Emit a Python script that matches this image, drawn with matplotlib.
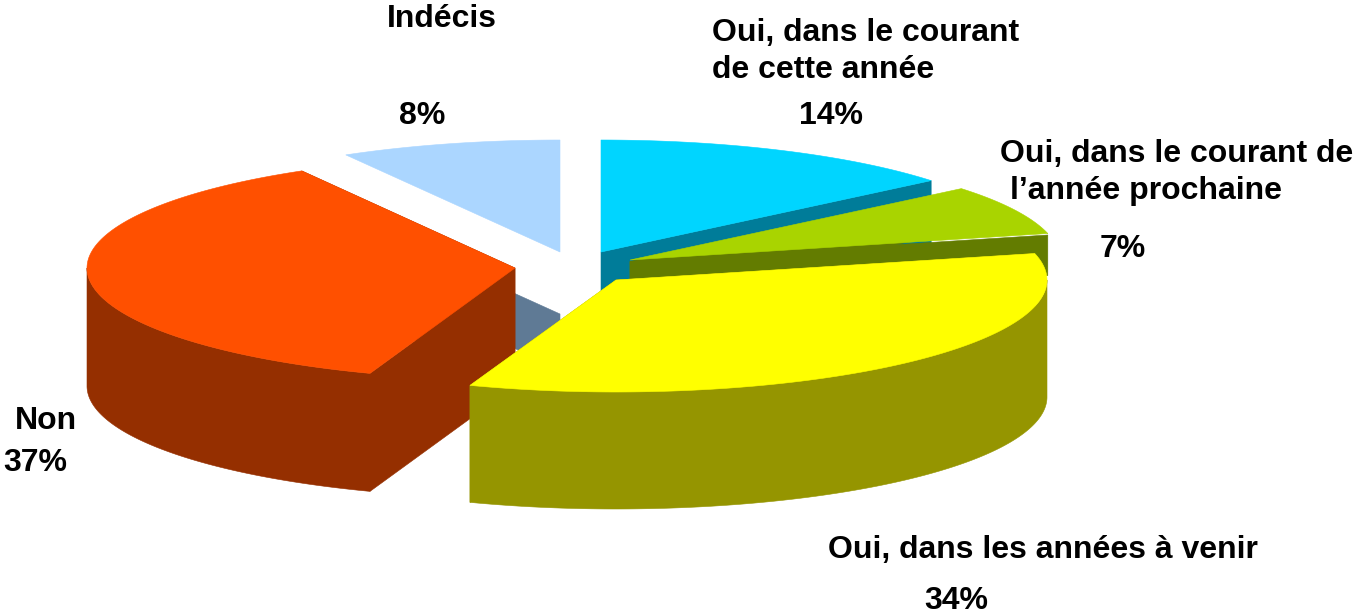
import numpy as np
import matplotlib
matplotlib.use("Agg")
import matplotlib.pyplot as plt

plt.rcParams['font.family'] = ['Liberation Sans', 'DejaVu Sans']

# Parts (les pourcentages affichés sont arrondis)
valeurs = [14.0, 7.2, 34.3, 36.2, 8.3]
pourcents = ["14%", "7%", "34%", "37%", "8%"]
couleurs = ["#00D5FF", "#A9D400", "#FFFF00", "#FF5000", "#ABD6FF"]
parois = ["#007C99", "#637C00", "#959500", "#952F00", "#5F7A95"]

# Centre de chaque part éclatée, en pixels
centres = [(601, 252), (630, 260), (616, 280), (515, 268), (560, 252)]
rayons = [428.5, 430, 431, 428, 430]
# Haut et bas de la paroi sous le dessus
retraits = [0, 1.5, 0, 0, 62]
hauteurs = [117, 42, 117, 118, 117]
# Ordre de dessin : du fond vers l'avant
ordre = [4, 0, 1, 3, 2]

B = 112

fig = plt.figure(figsize=(13.58, 6.15), dpi=100)
ax = fig.add_axes([0, 0, 1, 1])
ax.set_xlim(0, 1358)
ax.set_ylim(615, 0)
ax.axis('off')


def arc(cx, cy, a, t0, t1):
    t = np.radians(np.linspace(t0, t1, 200))
    return cx + a * np.sin(t), cy - B * np.cos(t)


def face(xs, ys, c):
    ax.fill(xs, ys, facecolor=c, edgecolor=c, lw=0.4)


bornes = np.cumsum([0] + valeurs) * 360 / sum(valeurs)

for i in ordre:
    cx, cy = centres[i]
    a = rayons[i]
    t0, t1 = bornes[i], bornes[i + 1]
    r = retraits[i]
    p = hauteurs[i]
    # faces radiales
    for t in (t0, t1):
        x, y = arc(cx, cy, a, t, t)
        x, y = x[0], y[0]
        if abs(x - cx) > 1:
            face([cx, x, x, cx], [cy + r, y + r, y + p, cy + p], parois[i])
    # paroi courbe, seulement la partie tournée vers l'avant
    a0, a1 = max(t0, 90), min(t1, 270)
    if a0 < a1:
        x, y = arc(cx, cy, a, a0, a1)
        face(np.r_[x, x[::-1]], np.r_[y + r, y[::-1] + p], parois[i])
    # dessus
    x, y = arc(cx, cy, a, t0, t1)
    face(np.r_[cx, x], np.r_[cy, y], couleurs[i])

FS = 23


def texte(x, y, s, ha='left'):
    ax.text(x, y, s, ha=ha, va='center', fontsize=FS, fontweight='bold', color='black')


texte(712, 33, "Oui, dans le courant")
texte(712, 70, "de cette année")
texte(831, 116, pourcents[0], ha='center')
texte(1000, 154, "Oui, dans le courant de")
texte(1010, 191, "l’année prochaine")
texte(1123, 249, pourcents[1], ha='center')
texte(828, 550, "Oui, dans les années à venir")
texte(956, 601, pourcents[2], ha='center')
texte(15, 421, "Non")
texte(3, 463, pourcents[3])
texte(387, 19, "Indécis")
texte(422, 116, pourcents[4], ha='center')

fig.savefig("out.png", dpi=100)
